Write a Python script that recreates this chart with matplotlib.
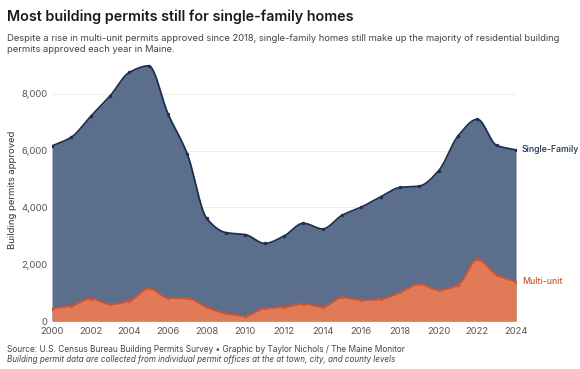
import numpy as np
import matplotlib
matplotlib.use("Agg")
import matplotlib.pyplot as plt

years = list(range(2000, 2025))
single_family = [6160, 6470, 7200, 7920, 8750, 8980, 7290, 5870, 3610, 3110, 3040,
                 2730, 2990, 3440, 3240, 3720, 4010, 4370, 4700, 4750, 5290, 6510,
                 7100, 6180, 6020]
multi_unit = [440, 540, 790, 590, 710, 1150, 810, 800, 480, 270, 180,
              450, 490, 610, 500, 830, 740, 770, 1010, 1300, 1090, 1270,
              2170, 1620, 1380]
y_ticks = [0, 2000, 4000, 6000, 8000]
x_ticks = list(range(2000, 2025, 2))

title = "Most building permits still for single-family homes"
subtitle = ("Despite a rise in multi-unit permits approved since 2018, single-family homes still make up the majority of residential building\n"
            "permits approved each year in Maine.")
source = "Source: U.S. Census Bureau Building Permits Survey \u2022 Graphic by Taylor Nichols / The Maine Monitor"
note = "Building permit data are collected from individual permit offices at the at town, city, and county levels"

SF_FILL, SF_LINE = "#5b6e8b", "#1c2f4f"
MU_FILL, MU_LINE = "#e07a57", "#cf5330"

plt.rcParams['font.family'] = ['Inter', 'DejaVu Sans']


def monotone(x, y, n=20):
    x = np.asarray(x, float); y = np.asarray(y, float)
    h = np.diff(x); d = np.diff(y) / h
    m = np.zeros_like(y)
    m[0], m[-1] = d[0], d[-1]
    for i in range(1, len(y) - 1):
        if d[i - 1] * d[i] <= 0:
            m[i] = 0
        else:
            w1 = 2 * h[i] + h[i - 1]; w2 = h[i] + 2 * h[i - 1]
            m[i] = (w1 + w2) / (w1 / d[i - 1] + w2 / d[i])
    xs, ys = [], []
    for i in range(len(x) - 1):
        t = np.linspace(0, 1, n, endpoint=False)
        h00 = 2*t**3 - 3*t**2 + 1; h10 = t**3 - 2*t**2 + t
        h01 = -2*t**3 + 3*t**2; h11 = t**3 - t**2
        xs.append(x[i] + t * h[i])
        ys.append(h00*y[i] + h10*h[i]*m[i] + h01*y[i+1] + h11*h[i]*m[i+1])
    xs.append([x[-1]]); ys.append([y[-1]])
    return np.concatenate(xs), np.concatenate(ys)


fig = plt.figure(figsize=(5.8, 3.69), dpi=100)
ax = fig.add_axes([0.0897, 0.130, 0.800, 0.7085])

for vals, fc, lc in [(single_family, SF_FILL, SF_LINE), (multi_unit, MU_FILL, MU_LINE)]:
    xs, ys = monotone(years, vals)
    ax.fill_between(xs, 0, ys, color=fc, lw=0, zorder=2)
    ax.plot(xs, ys, color=lc, lw=1.3, zorder=3, solid_capstyle='round')
    ax.scatter(years, vals, s=6, color=lc, zorder=4, lw=0)

ax.set_xlim(2000, 2024)
ax.set_ylim(0, 9200)
ax.set_yticks(y_ticks)
ax.set_yticklabels([f"{v:,}" for v in y_ticks])
ax.set_xticks(x_ticks)
ax.set_xticklabels([str(v) for v in x_ticks])
for s in ax.spines.values():
    s.set_visible(False)
ax.tick_params(length=0, labelsize=6.8, colors="#555555", pad=3)
ax.tick_params(axis='x', pad=4)
ax.grid(axis='y', color="#ececec", lw=0.7, zorder=0)
ax.set_axisbelow(True)
ax.set_ylabel("Building permits approved", fontsize=6.8, color="#333333", labelpad=3)

ax.text(2024.3, single_family[-1], "Single-Family", color=SF_LINE, fontsize=6.3,
        va='center', ha='left', fontweight='medium')
ax.text(2024.3, multi_unit[-1], "Multi-unit", color=MU_LINE, fontsize=6.3,
        va='center', ha='left', fontweight='medium')

fig.text(0.012, 0.955, title, fontsize=10.3, fontweight='semibold', color="#1a1a1a", va='center')
fig.text(0.012, 0.880, subtitle, fontsize=6.75, color="#444444", va='center', linespacing=1.25)
fig.text(0.012, 0.054, source, fontsize=6.0, color="#444444", va='center')
fig.text(0.012, 0.027, note, fontsize=5.8, color="#444444", va='center', style='italic')

fig.savefig("out.png", dpi=100)
